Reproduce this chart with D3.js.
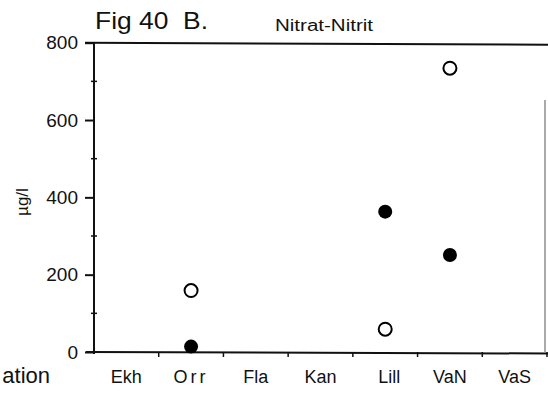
<!DOCTYPE html>
<html>
<head>
<meta charset="utf-8">
<script src="https://cdn.jsdelivr.net/npm/d3@7"></script>
<style>
  body { margin: 0; background: #fff; }
  svg { display: block; }
  text { font-family: "Liberation Sans", Arial, Helvetica, sans-serif; fill: #111; }
</style>
</head>
<body>
<svg id="chart"></svg>
<script>
var width = 548;
var height = 394;

// stations along the x axis
var stations = ["Ekh", "Orr", "Fla", "Kan", "Lill", "VaN", "VaS"];
// open circles and filled circles, µg/l (null = no sample)
var openValues = [null, 159, null, null, 59, 734, null];
var filledValues = [null, 14, null, null, 363, 251, null];
var yTicks = [0, 200, 400, 600, 800];
var yMinorTicks = [100, 300, 500, 700];

var svg = d3.select("#chart")
    .attr("width", width)
    .attr("height", height);

var x = d3.scaleBand()
    .domain(stations)
    .range([94, 547])
    .padding(0);

var y = d3.scaleLinear()
    .domain([0, 800])
    .range([352, 42.7]);

var axisColor = "#111";

// top frame line and thin right border (scan is faint there)
svg.append("line")
    .attr("x1", 85).attr("x2", width)
    .attr("y1", y(800)).attr("y2", y(800) + 2)
    .attr("stroke", axisColor).attr("stroke-width", 2);

svg.append("line")
    .attr("x1", 545).attr("x2", 545)
    .attr("y1", 100).attr("y2", y(0))
    .attr("stroke", "#555").attr("stroke-width", 1);

// y axis
var yAxis = svg.append("g")
    .attr("transform", "translate(94,0)")
    .call(d3.axisLeft(y).tickValues(yTicks).tickSize(9).tickPadding(7));

yAxis.select(".domain").remove();
yAxis.selectAll(".tick line").attr("stroke", axisColor).attr("stroke-width", 2);
yAxis.selectAll(".tick text")
    .style("font-size", "19px")
    .attr("fill", "#111");

svg.append("line")
    .attr("x1", 94).attr("x2", 94)
    .attr("y1", y(800)).attr("y2", y(0) + 2)
    .attr("stroke", axisColor).attr("stroke-width", 2);

svg.selectAll("line.minor")
    .data(yMinorTicks)
    .enter()
    .append("line")
        .attr("class", "minor")
        .attr("x1", 91).attr("x2", 97)
        .attr("y1", d => y(d)).attr("y2", d => y(d))
        .attr("stroke", axisColor).attr("stroke-width", 1.5);

// x axis
svg.append("line")
    .attr("x1", 86).attr("x2", width)
    .attr("y1", y(0)).attr("y2", y(0) + 1.5)
    .attr("stroke", axisColor).attr("stroke-width", 2);

var tickPos = stations.map(d => x(d)).concat([x.range()[1]]);
svg.selectAll("line.xtick")
    .data(tickPos.slice(1))
    .enter()
    .append("line")
        .attr("class", "xtick")
        .attr("x1", d => d).attr("x2", d => d)
        .attr("y1", y(0)).attr("y2", y(0) + 5)
        .attr("stroke", axisColor).attr("stroke-width", 1.5);

svg.selectAll("text.xlab")
    .data(stations)
    .enter()
    .append("text")
        .attr("class", "xlab")
        .attr("x", d => x(d) + x.bandwidth() / 2 + (d == "Lill" ? 4 : 0))
        .attr("y", 383)
        .attr("text-anchor", "middle")
        .style("font-size", "18px")
        .style("letter-spacing", d => d == "Orr" ? "3px" : "0px")
        .text(d => d);

// cut-off "Station" label
svg.append("text")
    .attr("x", 50).attr("y", 383)
    .attr("text-anchor", "end")
    .style("font-size", "22px")
    .text("ation");

// y label
svg.append("text")
    .attr("transform", "translate(28,202) rotate(-90)")
    .attr("text-anchor", "middle")
    .style("font-size", "17px")
    .text("µg/l");

// titles
svg.append("text")
    .attr("x", 95).attr("y", 29)
    .attr("textLength", 113)
    .attr("lengthAdjust", "spacingAndGlyphs")
    .style("font-size", "24px")
    .style("white-space", "pre")
    .text("Fig 40  B.");

svg.append("text")
    .attr("x", 275).attr("y", 31)
    .attr("textLength", 98)
    .attr("lengthAdjust", "spacingAndGlyphs")
    .style("font-size", "16px")
    .text("Nitrat-Nitrit");

// points
var cx = d => x(d) + x.bandwidth() / 2;

var openPts = stations.map((s, i) => ({ s: s, v: openValues[i] })).filter(d => d.v != null);
var filledPts = stations.map((s, i) => ({ s: s, v: filledValues[i] })).filter(d => d.v != null);

svg.selectAll("circle.open")
    .data(openPts)
    .enter()
    .append("circle")
        .attr("class", "open")
        .attr("cx", d => cx(d.s))
        .attr("cy", d => y(d.v))
        .attr("r", 6.5)
        .attr("fill", "#fff")
        .attr("stroke", "#000")
        .attr("stroke-width", 2);

svg.selectAll("circle.filled")
    .data(filledPts)
    .enter()
    .append("circle")
        .attr("class", "filled")
        .attr("cx", d => cx(d.s))
        .attr("cy", d => y(d.v))
        .attr("r", 7)
        .attr("fill", "#000");
</script>
</body>
</html>
